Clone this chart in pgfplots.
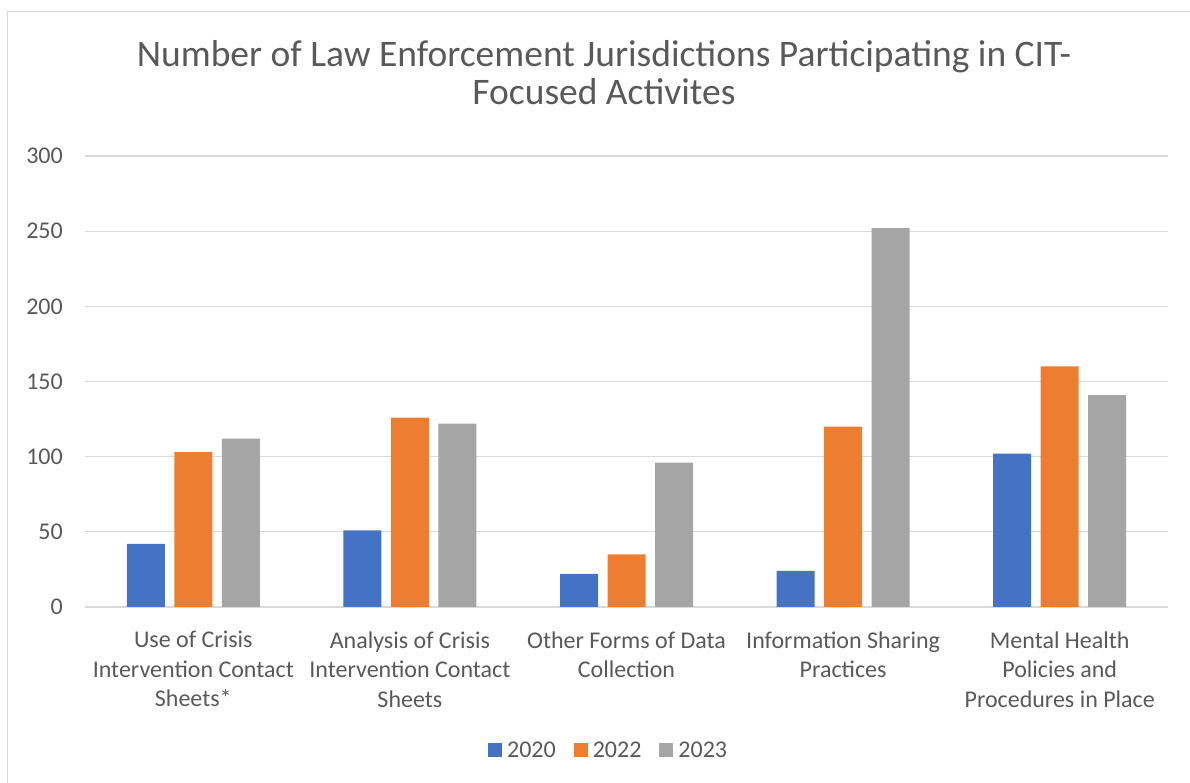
\documentclass[border=0pt]{standalone}
\usepackage{pgfplots}
\pgfplotsset{compat=1.18}
\usepackage{fontspec}
\setmainfont{Carlito}
\definecolor{c20}{HTML}{4472C4}
\definecolor{c22}{HTML}{ED7D31}
\definecolor{c23}{HTML}{A5A5A5}
\definecolor{txt}{HTML}{595959}
\definecolor{grd}{HTML}{D9D9D9}
\begin{document}
\begin{tikzpicture}
\useasboundingbox (0,0) rectangle (1190pt,783pt);
\draw[grd, line width=1.5pt] (7.5pt,0) -- (7.5pt,771.5pt) -- (1191pt,771.5pt);
\node[txt, font=\fontsize{37.5}{40}\selectfont, anchor=base] at (604pt,716pt) {Number of Law Enforcement Jurisdictions Participating in CIT-};
\node[txt, font=\fontsize{37.5}{40}\selectfont, anchor=base] at (604pt,678pt) {Focused Activites};
\begin{axis}[
  at={(85pt,176pt)}, anchor=south west,
  scale only axis, width=1083pt, height=451pt,
  xmin=-0.5, xmax=4.5, ymin=0, ymax=300,
  ybar=9.5pt, bar width=38pt,
  xtick={0,1,2,3,4},
  xticklabels={{Use of Crisis\\Intervention Contact\\Sheets*},
               {Analysis of Crisis\\Intervention Contact\\Sheets},
               {Other Forms of Data\\Collection},
               {Information Sharing\\Practices},
               {Mental Health\\Policies and\\Procedures in Place}},
  ytick={0,50,100,150,200,250,300},
  ymajorgrids, grid style={grd, line width=1.3pt},
  axis line style={draw=none}, tick style={draw=none},
  /pgf/number format/assume math mode=true,
  yticklabel style={font=\fontsize{24}{28}\selectfont, text=txt, inner sep=0pt, xshift=-22pt},
  xticklabel style={font=\fontsize{24}{29.5}\selectfont, text=txt, align=center, anchor=north, inner sep=0pt, yshift=-20pt},
  legend style={at={(0.483,-0.317)}, anchor=center, draw=none, legend columns=3,
    font=\fontsize{24}{28}\selectfont, text=txt,
    nodes={inner sep=1pt},
    /tikz/every odd column/.append style={column sep=4pt},
    /tikz/every even column/.append style={column sep=17pt}},
  legend image code/.code={\fill[#1] (0pt,-7pt) rectangle (14pt,7pt);},
]
\addplot[fill=c20, draw=none] coordinates {(0,42) (1,51) (2,22) (3,24) (4,102)};
\addplot[fill=c22, draw=none] coordinates {(0,103) (1,126) (2,35) (3,120) (4,160)};
\addplot[fill=c23, draw=none] coordinates {(0,112) (1,122) (2,96) (3,252) (4,141)};
\legend{2020,2022,2023}
\end{axis}
\end{tikzpicture}
\end{document}
